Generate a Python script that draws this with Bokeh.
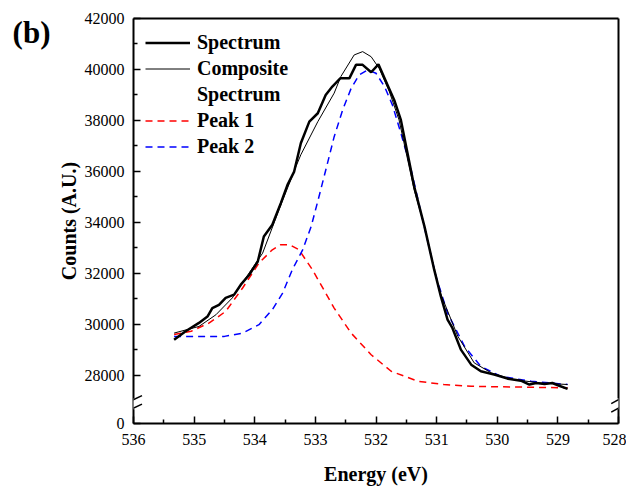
from bokeh.plotting import figure
from bokeh.models import (Range1d, FixedTicker, LinearAxis, Legend, LegendItem,
                          Arrow)
from bokeh.embed import file_html
from bokeh.resources import INLINE

# ---------------- data ----------------
spec_e = [535.33, 535.14, 534.92, 534.78, 534.70, 534.59, 534.48, 534.34, 534.23,
          534.09, 533.95, 533.85, 533.71, 533.57, 533.46, 533.35, 533.24, 533.10,
          532.96, 532.83, 532.72, 532.59, 532.44, 532.33, 532.22, 532.08, 531.96,
          531.81, 531.70, 531.59, 531.48, 531.37, 531.20, 531.04, 530.93, 530.82,
          530.74, 530.60, 530.43, 530.27, 530.05, 529.83, 529.61, 529.47, 529.36,
          529.22, 529.09, 529.00, 528.84]
spec_c = [29390, 29720, 30050, 30300, 30630, 30760, 31030, 31160, 31550,
          31940, 32460, 33440, 33900, 34750, 35470, 35990, 37100, 37950,
          38280, 39000, 39330, 39650, 39650, 40180, 40180, 39890, 40200,
          39390, 38800, 38020, 36710, 35400, 33830, 32140, 31090, 30180,
          29850, 29000, 28410, 28150, 28020, 27860, 27780, 27630, 27690,
          27650, 27690, 27600, 27460]

comp_e = [535.33, 534.92, 534.64, 534.37, 534.15, 533.87, 533.60, 533.32, 533.24,
          532.96, 532.69, 532.58, 532.36, 532.22, 532.08, 531.95, 531.78, 531.62,
          531.37, 531.20, 530.96, 530.65, 530.38, 530.10, 529.72, 529.28, 528.84]
comp_c = [29650, 29910, 30370, 31030, 31810, 32790, 34490, 36190, 36650,
          37950, 39070, 39720, 40570, 40700, 40500, 40050, 39130, 38020,
          35270, 33830, 31350, 29520, 28480, 28090, 27820, 27690, 27630]

peak1_e = [535.33, 535.05, 534.75, 534.48, 534.20, 533.93, 533.71, 533.57, 533.43,
           533.27, 533.05, 532.83, 532.69, 532.41, 532.08, 531.75, 531.31, 530.88,
           530.43, 528.84]
peak1_c = [29590, 29720, 30050, 30500, 31420, 32400, 32920, 33120, 33120,
           32920, 32140, 31220, 30630, 29650, 28800, 28150, 27760, 27630,
           27560, 27500]

peak2_e = [535.33, 534.92, 534.50, 534.20, 533.93, 533.71, 533.54, 533.38, 533.21,
           533.07, 532.94, 532.80, 532.69, 532.55, 532.41, 532.28, 532.14, 532.00,
           531.86, 531.73, 531.59, 531.42, 531.18, 531.01, 530.82, 530.54, 530.27,
           529.94, 529.44, 528.84]
peak2_c = [29520, 29520, 29520, 29650, 29980, 30570, 31220, 32140, 32920,
           33830, 35010, 36320, 37360, 38410, 39260, 39780, 39980, 39850,
           39330, 38610, 37500, 36060, 33580, 31870, 30440, 29130, 28340,
           27950, 27760, 27630]

x_ticks = [536, 535, 534, 533, 532, 531, 530, 529, 528]
x_minor = [535.5, 534.5, 533.5, 532.5, 531.5, 530.5, 529.5, 528.5]
y_zero_pos = 26100          # where the "0" tick sits below the axis break
y_ticks = [y_zero_pos, 28000, 30000, 32000, 34000, 36000, 38000, 40000, 42000]
y_minor = [29000, 31000, 33000, 35000, 37000, 39000, 41000]
y_labels = {y_zero_pos: "0"}
break_lo, break_hi = 26704, 27037
panel_tag = "(b)"
panel_tag_pos = 41450

FONT = "Liberation Serif"

p = figure(frame_width=485, frame_height=405, output_backend="svg",
           toolbar_location=None, x_range=Range1d(536, 528),
           y_range=Range1d(y_zero_pos, 42000),
           min_border_left=133, min_border_right=8, min_border_top=18,
           min_border_bottom=50)
p.outline_line_color = None
p.grid.visible = False
p.background_fill_color = "white"

# axes styling
for ax in (p.xaxis[0], p.yaxis[0]):
    ax.axis_line_width = 2
    ax.major_tick_in = 7
    ax.major_tick_out = 0
    ax.minor_tick_in = 4
    ax.minor_tick_out = 0
    ax.major_tick_line_width = 1.5
    ax.minor_tick_line_width = 1.5
    ax.major_label_text_font = FONT
    ax.major_label_text_font_size = "16px"
    ax.major_label_text_color = "black"
    ax.axis_label_text_font = FONT
    ax.axis_label_text_font_size = "20px"
    ax.axis_label_text_font_style = "bold"
    ax.axis_label_text_color = "black"

p.xaxis[0].ticker = FixedTicker(ticks=x_ticks, minor_ticks=x_minor)
p.xaxis[0].axis_label = "Energy (eV)"
p.xaxis[0].major_label_standoff = 10
p.xaxis[0].axis_label_standoff = 15

p.yaxis[0].ticker = FixedTicker(ticks=y_ticks, minor_ticks=y_minor)
p.yaxis[0].major_label_overrides = y_labels
p.yaxis[0].axis_label = "Counts (A.U.)"
p.yaxis[0].major_label_standoff = 9
p.yaxis[0].axis_label_standoff = 2

# panel tag "(b)" as the only label of an outer, line-less left axis
tag_axis = LinearAxis(ticker=FixedTicker(ticks=[panel_tag_pos]),
                      major_label_overrides={panel_tag_pos: panel_tag},
                      axis_line_color=None, major_tick_line_color=None,
                      minor_tick_line_color=None,
                      major_label_text_font=FONT,
                      major_label_text_font_size="31px",
                      major_label_text_font_style="bold",
                      major_label_text_color="black",
                      major_label_standoff=-2)
p.add_layout(tag_axis, "left")

for loc in ("right", "above"):
    ax = LinearAxis(ticker=FixedTicker(ticks=[]), axis_line_width=2,
                    major_label_text_font_size="0px", major_tick_in=0,
                    major_tick_out=0, minor_tick_in=0, minor_tick_out=0)
    p.add_layout(ax, loc)

# curves
r_p1 = p.line(peak1_e, peak1_c, line_color="#ff0000", line_width=1.5, line_dash="7 5")
r_p2 = p.line(peak2_e, peak2_c, line_color="#0000ff", line_width=1.5, line_dash="7 5")
r_comp = p.line(comp_e, comp_c, line_color="black", line_width=1)
r_spec = p.line(spec_e, spec_c, line_color="black", line_width=2.5)
r_blank = p.line([], [], line_alpha=0)

legend = Legend(items=[
    LegendItem(label="Spectrum", renderers=[r_spec]),
    LegendItem(label="Composite", renderers=[r_comp]),
    LegendItem(label="Spectrum", renderers=[r_blank]),
    LegendItem(label="Peak 1", renderers=[r_p1]),
    LegendItem(label="Peak 2", renderers=[r_p2]),
], location="top_left")
legend.label_text_font = FONT
legend.label_text_font_size = "20px"
legend.label_text_font_style = "bold"
legend.label_text_color = "black"
legend.glyph_width = 45
legend.glyph_height = 25
legend.label_height = 25
legend.label_standoff = 7
legend.spacing = 1
legend.margin = 12
legend.padding = 0
legend.border_line_color = None
legend.background_fill_alpha = 0
p.add_layout(legend)

# axis-break marks
for xe, dx in ((536, 0.14), (528, 0.12)):
    p.add_layout(Arrow(x_start=xe, y_start=break_lo - 40, x_end=xe,
                       y_end=break_hi + 40, end=None, line_color="white",
                       line_width=5))
    for yc in (break_lo, break_hi):
        p.add_layout(Arrow(x_start=xe + dx, y_start=yc - 157, x_end=xe - dx,
                           y_end=yc + 157, end=None, line_color="black",
                           line_width=1.5))

open("out.html", "w").write(file_html(p, INLINE))
